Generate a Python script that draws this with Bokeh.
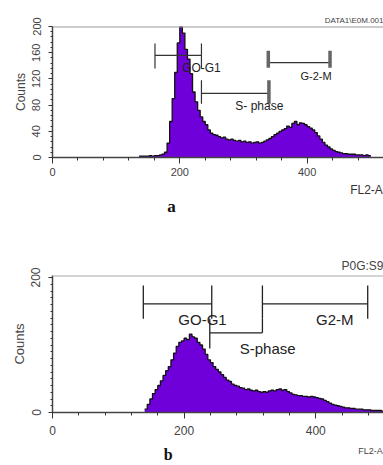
import numpy as np
from bokeh.plotting import figure
from bokeh.layouts import column
from bokeh.models import FixedTicker, Span, Range1d, Title
from bokeh.core.properties import value
from bokeh.embed import file_html
from bokeh.resources import INLINE

# ---------------- data ----------------
bin_width = 4
a_first_bin = 136
a_counts = [2, 2, 2, 2, 3, 2, 3, 3, 4, 5,
            8, 22, 55, 90, 130, 175, 200, 190, 165, 150,
            128, 100, 85, 72, 62, 55, 50, 42, 37, 35,
            34, 32, 30, 31, 28, 27, 28, 26, 25, 26,
            24, 25, 23, 24, 22, 23, 24, 22, 23, 25,
            27, 29, 32, 35, 37, 40, 42, 44, 48, 46,
            52, 55, 50, 53, 52, 50, 47, 45, 42, 38,
            33, 28, 23, 19, 16, 13, 11, 9, 8, 7,
            6, 6, 5, 5, 5, 4, 4, 4, 3, 4,
            3]

b_first_bin = 140
b_counts = [5, 12, 20, 28, 34, 40, 47, 55, 62, 68,
            78, 88, 98, 104, 106, 110, 108, 116, 112, 110,
            104, 100, 94, 86, 78, 74, 68, 64, 60, 56,
            52, 48, 46, 42, 40, 39, 37, 36, 34, 35,
            33, 32, 33, 31, 30, 31, 30, 32, 33, 32,
            34, 35, 33, 34, 31, 29, 27, 26, 25, 25,
            24, 24, 23, 24, 23, 22, 21, 20, 18, 16,
            14, 12, 11, 10, 9, 8, 7, 7, 6, 6,
            5, 5, 5, 4, 4, 4, 3, 3, 3, 3,
            2]

a_gate_names = ["GO-G1", "S- phase", "G-2-M"]
a_gate_start = [161, 234, 339]
a_gate_end = [234, 340, 436]
a_gate_level = [156, 98, 145]
a_cap_lo = [136, 82, 137]
a_cap_hi = [174, 118, 163]

b_gate_names = ["GO-G1", "S-phase", "G2-M"]
b_gate_start = [138, 239, 319]
b_gate_end = [242, 319, 479]
b_gate_level = [161, 118, 161]
b_cap_x = [138, 242, 239, 319, 319, 479]
b_cap_lo = [139, 139, 95, 118, 139, 139]
b_cap_hi = [188, 188, 139, 139, 188, 188]

x_major = [0, 200, 400]
x_minor = [40, 80, 120, 160, 240, 280, 320, 360, 440, 480]
a_y_major = [0, 40, 80, 120, 160, 200]
b_y_major = [0, 200]

PURPLE = "#6f00d9"
FONT = "Liberation Sans"


def style_axes(p, y_major, label_size, axis_size, y_minor_step, y_max, x_standoff):
    p.xaxis.ticker = FixedTicker(ticks=x_major, minor_ticks=x_minor)
    p.yaxis.ticker = FixedTicker(ticks=y_major,
                                 minor_ticks=list(np.arange(0, y_max + 1, y_minor_step)))
    for ax in (p.xaxis[0], p.yaxis[0]):
        ax.axis_line_color = "#444"
        ax.axis_line_width = 1.5
        ax.major_tick_line_color = "#333"
        ax.minor_tick_line_color = "#333"
        ax.major_tick_in = 0
        ax.minor_tick_in = 0
        ax.major_label_text_font = FONT
        ax.major_label_text_color = "#444"
        ax.major_label_text_font_size = f"{label_size}px"
        ax.axis_label_text_font = FONT
        ax.axis_label_text_font_style = "normal"
        ax.axis_label_text_color = "#444"
        ax.axis_label_text_font_size = f"{axis_size}px"
    p.xaxis.major_tick_out = 6
    p.xaxis.minor_tick_out = 3
    p.xaxis.major_label_standoff = x_standoff
    p.yaxis.major_tick_out = 4
    p.yaxis.minor_tick_out = 2
    p.yaxis.major_label_orientation = "vertical"
    p.yaxis.major_label_standoff = 8
    p.yaxis.axis_label = "Counts"
    p.yaxis.axis_label_standoff = 2
    p.xgrid.grid_line_color = None
    p.ygrid.grid_line_color = None
    p.outline_line_color = None


def draw_hist(p, first, counts):
    counts = np.array(counts, dtype=float)
    xs = first + bin_width * np.arange(len(counts) + 1)
    ys = np.append(counts, counts[-1])
    p.varea_step(x=xs, y1=np.zeros_like(ys), y2=ys, step_mode="after", fill_color=PURPLE)
    p.step(x=xs, y=ys, mode="after", line_color="#111", line_width=1.3)


def strip(x_range, height, left):
    s = figure(width=383, height=height, output_backend="svg", toolbar_location=None,
               x_range=x_range, y_range=Range1d(0, height),
               x_axis_type=None, y_axis_type=None,
               min_border_left=left, min_border_right=0, min_border_top=0, min_border_bottom=0)
    s.xgrid.grid_line_color = None
    s.ygrid.grid_line_color = None
    s.outline_line_color = None
    return s


def txt(p, x, y, text, size, color="#222", align="center", baseline="middle",
        font=FONT, style="normal"):
    p.text(x=[x], y=[y], text=[text], text_font=value(font), text_font_size=f"{size}px",
           text_color=color, text_align=align, text_baseline=baseline,
           text_font_style=style)


# ---------------- panel a ----------------
pa = figure(width=383, height=183, output_backend="svg", toolbar_location=None,
            x_range=Range1d(0, 520), y_range=Range1d(0, 200),
            min_border_left=50, min_border_right=0, min_border_top=26, min_border_bottom=26)
draw_hist(pa, a_first_bin, a_counts)
style_axes(pa, a_y_major, 11, 12, 8, 200, 4)
pa.add_layout(Span(location=200, dimension="width", line_color="#999", line_width=2))
pa.add_layout(Title(text="DATA1\\E0M.001", align="right", text_font=FONT,
                    text_font_size="8px", text_font_style="normal", text_color="#444",
                    standoff=4), "above")

pa.segment(x0=a_gate_start, y0=a_gate_level, x1=a_gate_end, y1=a_gate_level,
           line_color="#333", line_width=1.2)
pa.segment(x0=[a_gate_start[0], a_gate_end[0], a_gate_start[1]],
           y0=[a_cap_lo[0], a_cap_lo[0], a_cap_lo[1]],
           x1=[a_gate_start[0], a_gate_end[0], a_gate_start[1]],
           y1=[a_cap_hi[0], a_cap_hi[0], a_cap_hi[1]],
           line_color="#333", line_width=1.2)
pa.segment(x0=[a_gate_end[1], a_gate_start[2], a_gate_end[2]],
           y0=[a_cap_lo[1], a_cap_lo[2], a_cap_lo[2]],
           x1=[a_gate_end[1], a_gate_start[2], a_gate_end[2]],
           y1=[a_cap_hi[1], a_cap_hi[2], a_cap_hi[2]],
           line_color="#666", line_width=3.5)
txt(pa, 234, 136, a_gate_names[0], 12)
txt(pa, 325, 78, a_gate_names[1], 12)
txt(pa, 414, 125, a_gate_names[2], 11)

sa = strip(pa.x_range, 35, 50)
txt(sa, 519, 29, "FL2-A", 12, color="#333", align="right")
txt(sa, 187, 12, "a", 17, color="#111", baseline="middle",
    font="Liberation Serif", style="bold")

# ---------------- panel b ----------------
pb = figure(width=383, height=224, output_backend="svg", toolbar_location=None,
            x_range=Range1d(0, 503), y_range=Range1d(0, 203),
            min_border_left=52, min_border_right=0, min_border_top=57, min_border_bottom=30)
draw_hist(pb, b_first_bin, b_counts)
style_axes(pb, b_y_major, 12, 13, 10, 200, 7)
pb.add_layout(Span(location=203, dimension="width", line_color="#aaa", line_width=2))
pb.add_layout(Title(text="P0G:S9", align="right", text_font=FONT,
                    text_font_size="12px", text_font_style="normal", text_color="#444",
                    standoff=6), "above")

pb.segment(x0=b_gate_start, y0=b_gate_level, x1=b_gate_end, y1=b_gate_level,
           line_color="#222", line_width=1.3)
pb.segment(x0=b_cap_x, y0=b_cap_lo, x1=b_cap_x, y1=b_cap_hi,
           line_color="#222", line_width=1.3)
txt(pb, 228, 138, b_gate_names[0], 15)
txt(pb, 327, 95, b_gate_names[1], 15)
txt(pb, 429, 138, b_gate_names[2], 15)

sb = strip(pb.x_range, 23, 52)
txt(sb, 502, 15, "FL2-A", 9, color="#444", align="right")
txt(sb, 176, 11, "b", 16, color="#111", baseline="middle",
    font="Liberation Serif", style="bold")

layout = column(pa, sa, pb, sb)
open("out.html", "w").write(file_html(layout, INLINE))
